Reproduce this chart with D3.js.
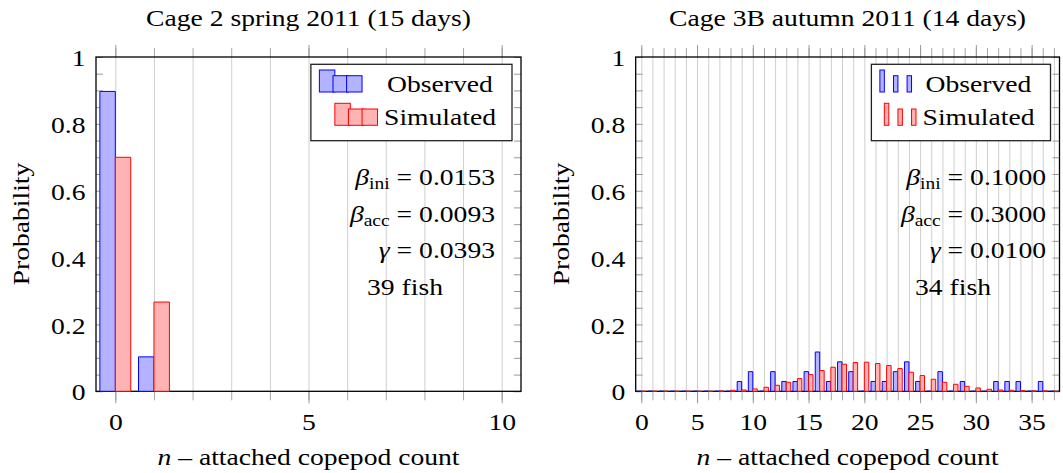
<!DOCTYPE html>
<html><head><meta charset="utf-8">
<script src="https://cdn.jsdelivr.net/npm/d3@7"></script>
<style>
body{margin:0;background:#fff}
text{font-family:"Liberation Serif",serif;font-size:24px;fill:#000}
</style>
</head><body>
<svg id="c" width="1063" height="473"></svg>
<script>
// ---------- data ----------
const leftCounts = [0, 1];
const leftObserved = [0.897, 0.103];
const leftSimulated = [0.700, 0.267];

const rightCounts = [0,1,2,3,4,5,6,7,8,9,10,11,12,13,14,15,16,17,18,19,20,21,22,23,24,25,26,27,28,29,30,31,32,33,34,35,36,37];
const rightObserved = [0,0,0,0,0,0,0,0,0,0.0294,0.0588,0,0.0588,0.0294,0.0294,0.0588,0.1176,0.0294,0.0882,0.0588,0,0.0294,0.0294,0.0588,0.0882,0.0294,0,0.0588,0,0.0294,0,0,0.0294,0.0294,0.0294,0,0.0294,0];
const rightSimulated = [0,0,0,0,0,0,0,0.001,0.003,0.004,0.007,0.012,0.018,0.027,0.038,0.050,0.062,0.072,0.081,0.086,0.087,0.083,0.077,0.068,0.057,0.047,0.036,0.027,0.021,0.015,0.010,0.006,0.004,0.003,0.002,0.001,0.001,0];

const leftXTicks = [0, 5, 10];
const rightXTicks = [0, 5, 10, 15, 20, 25, 30, 35];
const yTicks = [0, 0.2, 0.4, 0.6, 0.8, 1];
const yTickLabels = ["0", "0.2", "0.4", "0.6", "0.8", "1"];

const titles = ["Cage 2 spring 2011 (15 days)", "Cage 3B autumn 2011 (14 days)"];
const leftParams = ["0.0153", "0.0093", "0.0393"];
const rightParams = ["0.1000", "0.3000", "0.0100"];
const fishCounts = ["39 fish", "34 fish"];
const seriesNames = ["Observed", "Simulated"];

// ---------- drawing ----------
const svg = d3.select("#c");
const STRETCH = 1.15;
const BLUE = "#0000ff", BLUEFILL = "#b3b3ff", RED = "#ff0000", REDFILL = "#ffb3b3";

function stretch(sel) {
  sel.each(function () {
    const w = this.getComputedTextLength();
    if (w > 0) d3.select(this).attr("textLength", w * STRETCH).attr("lengthAdjust", "spacingAndGlyphs");
  });
}

function drawPanel(p) {
  const top = 57, bottom = 391.3;
  const g = svg.append("g");
  const x = d3.scaleLinear().domain(p.xDomain).range([p.left, p.right]);
  const y = d3.scaleLinear().domain([0, 1]).range([bottom, top]);
  const ints = d3.range(Math.ceil(p.xDomain[0]), Math.floor(p.xDomain[1]) + 1);
  const minorY = d3.range(0, 21).map(i => i / 20);

  // grid lines
  g.append("g").attr("transform", `translate(0,${bottom})`)
    .call(d3.axisBottom(x).tickValues(ints).tickSize(-(bottom - top)).tickFormat(""))
    .call(s => s.select(".domain").remove())
    .selectAll("line").attr("stroke", "#cfcfcf").attr("stroke-width", 1);

  // outer x ticks bottom
  g.append("g").attr("transform", `translate(0,${bottom})`)
    .call(d3.axisBottom(x).tickValues(ints).tickSize(9).tickFormat(""))
    .call(s => s.select(".domain").remove())
    .selectAll("line").attr("stroke", "#a8a8a8");
  // outer x ticks top
  g.append("g").attr("transform", `translate(0,${top})`)
    .call(d3.axisTop(x).tickValues(ints).tickSize(9).tickFormat(""))
    .call(s => s.select(".domain").remove())
    .selectAll("line").attr("stroke", "#a8a8a8");
  // major x ticks with labels
  const xa = g.append("g").attr("transform", `translate(0,${bottom})`)
    .call(d3.axisBottom(x).tickValues(p.xTicks).tickSize(12).tickPadding(10).tickFormat(d => String(d)))
    .call(s => s.select(".domain").remove());
  xa.selectAll("line").attr("stroke", "#999");
  xa.selectAll("text").attr("font-family", null).attr("font-size", null);
  g.append("g").attr("transform", `translate(0,${top})`)
    .call(d3.axisTop(x).tickValues(p.xTicks).tickSize(12).tickFormat(""))
    .call(s => s.select(".domain").remove())
    .selectAll("line").attr("stroke", "#999");

  // y ticks inward, left and right
  g.append("g").attr("transform", `translate(${p.left},0)`)
    .call(d3.axisLeft(y).tickValues(minorY).tickSize(-7).tickFormat(""))
    .call(s => s.select(".domain").remove())
    .selectAll("line").attr("stroke", "#999");
  g.append("g").attr("transform", `translate(${p.right},0)`)
    .call(d3.axisRight(y).tickValues(minorY).tickSize(-7).tickFormat(""))
    .call(s => s.select(".domain").remove())
    .selectAll("line").attr("stroke", "#999");
  const ya = g.append("g").attr("transform", `translate(${p.left},0)`)
    .call(d3.axisLeft(y).tickValues(yTicks).tickSize(0).tickPadding(10.5).tickFormat((d, i) => yTickLabels[i]))
    .call(s => s.select(".domain").remove());
  ya.selectAll("text").attr("dy", "0.36em").attr("font-family", null).attr("font-size", null);
  stretch(xa.selectAll("text"));
  stretch(ya.selectAll("text"));

  // box
  g.append("rect").attr("x", p.left).attr("y", top).attr("width", p.right - p.left).attr("height", bottom - top)
    .attr("fill", "none").attr("stroke", "#000").attr("stroke-width", 1.3);

  // bars
  const bw = x(0.4) - x(0);
  const barPath = (x0, x1, v) => `M${x0},${y(0)}V${y(v)}H${x1}V${y(0)}Z`;
  const obs = p.counts.map((c, i) => ({ c, v: p.observed[i] }));
  const sim = p.counts.map((c, i) => ({ c, v: p.simulated[i] }));
  g.append("g").selectAll("path").data(obs).join("path")
    .attr("d", d => barPath(x(d.c) - bw, x(d.c), d.v))
    .attr("fill", BLUEFILL).attr("stroke", BLUE).attr("stroke-width", 1);
  g.append("g").selectAll("path").data(sim).join("path")
    .attr("d", d => barPath(x(d.c), x(d.c) + bw, d.v))
    .attr("fill", REDFILL).attr("stroke", RED).attr("stroke-width", 1);

  // title
  stretch(g.append("text").attr("x", (p.left + p.right) / 2).attr("y", 26)
    .attr("text-anchor", "middle").text(p.title));

  // axis labels
  const yl = g.append("text").attr("transform", `translate(${p.left - 67},224) rotate(-90)`)
    .attr("text-anchor", "middle").text("Probability");
  stretch(yl);
  const xl = g.append("text").attr("x", (p.left + p.right) / 2).attr("y", 465).attr("text-anchor", "middle");
  xl.append("tspan").attr("font-style", "italic").text("n");
  xl.append("tspan").text(" \u2013 attached copepod count");
  stretch(xl);

  // legend
  const lgRight = p.right - 9, lgTop = 64.3, lgBottom = 140.7;
  const spacing = 13.6;
  const iconW = 2 * spacing + 2 * bw;
  const textW = 114;
  const lgLeft = lgRight - (8.5 + iconW + 5.5 + textW + 15);
  g.append("rect").attr("x", lgLeft).attr("y", lgTop).attr("width", lgRight - lgLeft).attr("height", lgBottom - lgTop)
    .attr("fill", "#fff").attr("stroke", "#222").attr("stroke-width", 1.3);
  const c0 = lgLeft + 8.5 + bw;
  const iconCenters = [c0, c0 + spacing, c0 + 2 * spacing];
  const iconTops = [22, 16.3, 16.3];
  const rows = [
    { base: 92, stroke: BLUE, fill: BLUEFILL, sh: -1, name: seriesNames[0] },
    { base: 125.3, stroke: RED, fill: REDFILL, sh: 0, name: seriesNames[1] }
  ];
  rows.forEach(r => {
    iconCenters.forEach((c, i) => {
      const x0 = c + r.sh * bw;
      g.append("rect").attr("x", x0).attr("y", r.base - iconTops[i]).attr("width", bw).attr("height", iconTops[i])
        .attr("fill", r.fill).attr("fill-opacity", 1).attr("stroke", r.stroke).attr("stroke-width", 1);
    });
    stretch(g.append("text").attr("x", lgRight - 15 - textW / 2).attr("y", r.base).attr("text-anchor", "middle").text(r.name));
  });

  // annotations
  const names = ["ini", "acc"];
  const bases = [185, 221.7, 258.3];
  p.params.forEach((val, i) => {
    const t = g.append("text").attr("x", p.annRight).attr("y", bases[i]).attr("text-anchor", "end");
    if (i < 2) {
      t.append("tspan").attr("font-style", "italic").text("\u03B2");
      t.append("tspan").attr("font-size", "17px").attr("dy", 4).text(names[i]);
      t.append("tspan").attr("dy", -4).text(" = " + val);
    } else {
      t.append("tspan").attr("font-style", "italic").text("\u03B3");
      t.append("tspan").text(" = " + val);
    }
    stretch(t);
  });
  stretch(g.append("text").attr("x", p.fishX).attr("y", 294.5).attr("text-anchor", "middle").text(p.fish));
}

drawPanel({
  left: 96, right: 521, xDomain: [-0.5, 10.5], xTicks: leftXTicks,
  counts: leftCounts, observed: leftObserved, simulated: leftSimulated,
  title: titles[0], params: leftParams, fish: fishCounts[0], annRight: 495, fishX: 405
});
drawPanel({
  left: 635.7, right: 1059.5, xDomain: [-0.5, 37.5], xTicks: rightXTicks,
  counts: rightCounts, observed: rightObserved, simulated: rightSimulated,
  title: titles[1], params: rightParams, fish: fishCounts[1], annRight: 1046, fishX: 953
});
</script>
</body></html>
